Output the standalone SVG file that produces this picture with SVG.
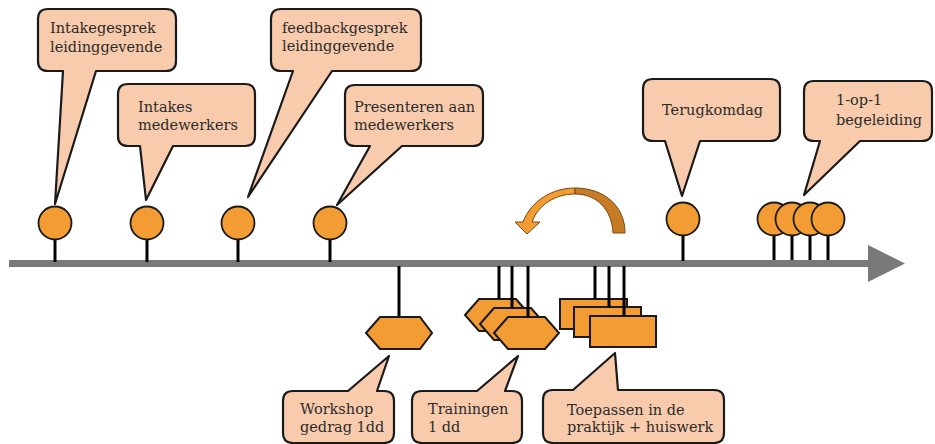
<svg xmlns="http://www.w3.org/2000/svg" width="935" height="444" viewBox="0 0 935 444">
<style>
.call{fill:#f8cbad;stroke:#1a1a1a;stroke-width:2.2;stroke-linejoin:round}
.dot{fill:#f39c33;stroke:#1a1a1a;stroke-width:1.8}
.shp{fill:#f39c33;stroke:#1a1a1a;stroke-width:2}
.stem{stroke:#000;stroke-width:3}
.t{font-family:"DejaVu Serif","Liberation Serif",serif;font-size:14.5px;fill:#2b2b2b}
</style>
<rect width="935" height="444" fill="#fff"/>
<g id="timeline">
<rect x="9" y="260" width="865" height="7" fill="#7a7878"/>
<polygon points="868,245 905,263.5 868,282" fill="#7a7878"/>
</g>
<g id="connectors">
<line class="stem" x1="55" y1="240" x2="55" y2="262"/>
<line class="stem" x1="147" y1="240" x2="147" y2="262"/>
<line class="stem" x1="238" y1="240" x2="238" y2="262"/>
<line class="stem" x1="330" y1="240" x2="330" y2="262"/>
<line class="stem" x1="683" y1="236" x2="683" y2="261"/>
<line class="stem" x1="774" y1="236" x2="774" y2="260"/>
<line class="stem" x1="792" y1="236" x2="792" y2="260"/>
<line class="stem" x1="810" y1="236" x2="810" y2="260"/>
<line class="stem" x1="828" y1="236" x2="828" y2="260"/>
<line class="stem" x1="399" y1="266" x2="399" y2="317"/>
</g>
<g id="n-intakegesprek">
<path class="call" d="M48,9 H166 Q176,9 176,19 V61 Q176,71 166,71 H96 L55,204 L63,71 H48 Q38,71 38,61 V19 Q38,9 48,9 Z"/>
<text class="t" x="50" y="33">Intakegesprek</text>
<text class="t" x="50" y="52">leidinggevende</text>
<circle class="dot" cx="55" cy="223" r="16.5"/>
</g>
<g id="n-intakes">
<path class="call" d="M128,84 H245 Q255,84 255,94 V136 Q255,146 245,146 H173 L146,200 L140,146 H128 Q118,146 118,136 V94 Q118,84 128,84 Z"/>
<text class="t" x="138" y="112">Intakes</text>
<text class="t" x="138" y="130">medewerkers</text>
<circle class="dot" cx="147" cy="223" r="16.5"/>
</g>
<g id="n-feedback">
<path class="call" d="M281,9 H411 Q421,9 421,19 V61 Q421,71 411,71 H332 L248,197 L293,71 H281 Q271,71 271,61 V19 Q271,9 281,9 Z"/>
<text class="t" x="282" y="33">feedbackgesprek</text>
<text class="t" x="282" y="51">leidinggevende</text>
<circle class="dot" cx="238" cy="223" r="16.5"/>
</g>
<g id="n-presenteren">
<path class="call" d="M355,85 H473 Q483,85 483,95 V136 Q483,146 473,146 H402 L337,205 L370,146 H355 Q345,146 345,136 V95 Q345,85 355,85 Z"/>
<text class="t" x="354" y="112">Presenteren aan</text>
<text class="t" x="354" y="130">medewerkers</text>
<circle class="dot" cx="330" cy="223" r="16.5"/>
</g>
<g id="n-terugkomdag">
<path class="call" d="M653,79 H770 Q780,79 780,89 V131 Q780,141 770,141 H700 L682,196 L665,141 H653 Q643,141 643,131 V89 Q643,79 653,79 Z"/>
<text class="t" x="662" y="115">Terugkomdag</text>
<circle class="dot" cx="683" cy="219" r="16.5"/>
</g>
<g id="n-begeleiding">
<path class="call" d="M814,81 H922 Q932,81 932,91 V131 Q932,141 922,141 H860 L804,195 L820,141 H814 Q804,141 804,131 V91 Q804,81 814,81 Z"/>
<text class="t" x="836" y="105">1-op-1</text>
<text class="t" x="836" y="125">begeleiding</text>
<circle class="dot" cx="774" cy="219" r="16.5"/>
<circle class="dot" cx="792" cy="219" r="16.5"/>
<circle class="dot" cx="810" cy="219" r="16.5"/>
<circle class="dot" cx="828" cy="219" r="16.5"/>
</g>
<g id="n-cyclus">
<path d="M575,188 C552,188 531,201 523,222 L515,222 L527,234 L540,222 L532,222 C538,205 555,194 575,194 Z" fill="#f39c33" stroke="#7a4a10" stroke-width="1"/>
<path d="M575,188 C603,188 625,205 625,233 L613,233 C612,210 597,194 575,194 Z" fill="#c77b25" stroke="#7a4a10" stroke-width="1"/>
</g>
<g id="n-workshop">
<polygon class="shp" points="366,333 380,317 420,317 432,333 420,349 380,349"/>
<path class="call" d="M293,391 H348 L389,356 L377,391 H384 Q394,391 394,401 V433 Q394,443 384,443 H293 Q283,443 283,433 V401 Q283,391 293,391 Z"/>
<text class="t" x="300" y="414">Workshop</text>
<text class="t" x="300" y="432">gedrag 1dd</text>
</g>
<g id="n-trainingen">
<polygon class="shp" points="465,315 479,299 516,299 530,315 516,331 479,331"/>
<polygon class="shp" points="480,324 494,308 531,308 545,324 531,340 494,340"/>
<line class="stem" x1="499" y1="266" x2="499" y2="299"/>
<line class="stem" x1="512" y1="266" x2="512" y2="308"/>
<polygon class="shp" points="494,333 508,317 545,317 559,333 545,349 508,349"/>
<line class="stem" x1="528" y1="266" x2="528" y2="317"/>
<path class="call" d="M422,391 H477 L518,356 L505,391 H512 Q522,391 522,401 V433 Q522,443 512,443 H422 Q412,443 412,433 V401 Q412,391 422,391 Z"/>
<text class="t" x="428" y="414">Trainingen</text>
<text class="t" x="428" y="432">1 dd</text>
</g>
<g id="n-toepassen">
<rect class="shp" x="560" y="299" width="67" height="30"/>
<rect class="shp" x="574" y="307" width="67" height="30"/>
<line class="stem" x1="595" y1="266" x2="595" y2="299"/>
<line class="stem" x1="609" y1="266" x2="609" y2="307"/>
<rect class="shp" x="590" y="316" width="66" height="31"/>
<line class="stem" x1="624" y1="266" x2="624" y2="316"/>
<path class="call" d="M553,390 H573 L615,353 L618,390 H714 Q724,390 724,400 V433 Q724,443 714,443 H553 Q543,443 543,433 V400 Q543,390 553,390 Z"/>
<text class="t" x="567" y="415">Toepassen in de</text>
<text class="t" x="567" y="432">praktijk + huiswerk</text>
</g>
</svg>
